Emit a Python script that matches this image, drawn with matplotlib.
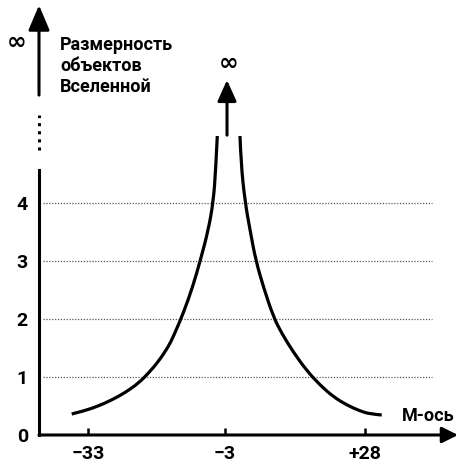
import matplotlib
matplotlib.use("Agg")
import matplotlib.pyplot as plt
from matplotlib.path import Path
from matplotlib.patches import PathPatch

plt.rcParams["font.family"] = ["Roboto", "DejaVu Sans"]
plt.rcParams["font.weight"] = "bold"

# ── data (x in M units, y in "dimension" units) ─────────────────────────────
left_m = [-36.66, -33.73, -30.80, -27.85, -24.92, -21.99, -19.78, -17.58,
          -15.38, -14.28, -12.08, -10.00, -8.30, -6.57, -5.47, -4.94, -4.59]
left_dim = [0.362, 0.419, 0.500, 0.603, 0.729, 0.891, 1.064, 1.264,
            1.522, 1.695, 2.098, 2.557, 3.017, 3.534, 4.022, 4.569, 5.155]
right_m = [0.41, 0.63, 1.52, 2.62, 3.87, 5.55, 7.75, 9.60, 12.15, 15.11,
           18.03, 20.96, 23.92, 26.85, 29.05, 31.63]
right_dim = [5.155, 4.684, 4.022, 3.534, 3.017, 2.557, 2.040, 1.753, 1.430,
             1.110, 0.862, 0.660, 0.517, 0.414, 0.362, 0.345]

x_ticks = [-33, -3, 28]
x_ticklabels = ["\u221233", "\u22123", "+28"]
y_ticks = [0, 1, 2, 3, 4]
grid_levels = [1, 2, 3, 4]

XMIN, XMAX = -43.86, 48.65
YMAX = 7.5
GRID_X = (-43.0, 42.7)
AXIS_SOLID_TOP = 4.57          # solid part of the vertical axis
AXIS_DOTS = (4.91, 5.52)       # dotted break
AXIS_UPPER = (5.86, 7.41)      # upper piece with arrow
CENTER_X = -2.45
CENTER_ARROW = (5.17, 6.12)


def smooth_branch(xs, ys):
    """Quadratic Bezier path through the midpoints of the read points."""
    pts = list(zip(xs, ys))
    verts = [pts[0]]
    codes = [Path.MOVETO]
    for i in range(1, len(pts) - 1):
        mid = ((pts[i][0] + pts[i + 1][0]) / 2, (pts[i][1] + pts[i + 1][1]) / 2)
        if i == len(pts) - 2:
            mid = pts[-1]
        verts += [pts[i], mid]
        codes += [Path.CURVE3, Path.CURVE3]
    return Path(verts, codes)


fig = plt.figure(figsize=(4.59, 4.63), dpi=100)
ax = fig.add_axes([39 / 459, 28 / 463, 420 / 459, 435 / 463])
ax.set_xlim(XMIN, XMAX)
ax.set_ylim(0, YMAX)

for s in ("top", "right", "bottom"):
    ax.spines[s].set_visible(False)
ax.spines["left"].set_linewidth(2.2)
ax.spines["left"].set_bounds(0, AXIS_SOLID_TOP)

# dotted reference levels
ax.hlines(grid_levels, *GRID_X, colors="#555555", lw=0.9,
          linestyles=(0, (1, 1.3)), zorder=1)

# the two branches
for xs, ys in ((left_m, left_dim), (right_m, right_dim)):
    ax.add_patch(PathPatch(smooth_branch(xs, ys), fill=False, lw=2.3,
                           edgecolor="black", capstyle="butt", zorder=3))

# vertical axis: break + upper arrow
ax.plot([XMIN, XMIN], AXIS_DOTS, color="black", lw=2.2, ls=":",
        clip_on=False)
ax.annotate("", xy=(XMIN, AXIS_UPPER[1]), xytext=(XMIN, AXIS_UPPER[0]),
            arrowprops=dict(arrowstyle="-|>,head_length=0.4,head_width=0.17",
                            mutation_scale=38, lw=2.2, color="black",
                            shrinkA=0, shrinkB=0),
            annotation_clip=False)

# horizontal axis with arrow
ax.annotate("", xy=(48.43, 0), xytext=(XMIN, 0),
            arrowprops=dict(arrowstyle="-|>,head_length=0.4,head_width=0.2",
                            mutation_scale=24, lw=2.2, color="black",
                            shrinkA=0, shrinkB=0),
            annotation_clip=False)

# central arrow
ax.annotate("", xy=(CENTER_X, CENTER_ARROW[1]),
            xytext=(CENTER_X, CENTER_ARROW[0]),
            arrowprops=dict(arrowstyle="-|>,head_length=0.4,head_width=0.18",
                            mutation_scale=32, lw=2.2, color="black",
                            shrinkA=0, shrinkB=0),
            annotation_clip=False)

ax.set_xticks(x_ticks, x_ticklabels)
ax.set_yticks(y_ticks, [str(v) for v in y_ticks])
ax.tick_params(axis="x", direction="in", length=5, width=1.8, pad=7,
               labelsize=14)
ax.tick_params(axis="y", length=0, pad=8, labelsize=14)

ax.text(-48.7, 6.78, "\u221e", family="DejaVu Sans", fontsize=17,
        fontweight="bold", ha="center", va="center", clip_on=False)
ax.text(-2.2, 6.41, "\u221e", family="DejaVu Sans", fontsize=17,
        fontweight="bold", ha="center", va="center")
ax.text(-39.2, 6.88, "Размерность\nобъектов\nВселенной", fontsize=13,
        ha="left", va="top", linespacing=1.2)
ax.text(36.0, 0.32, "М-ось", fontsize=13, ha="left", va="center")

fig.savefig("out.png", dpi=100)
